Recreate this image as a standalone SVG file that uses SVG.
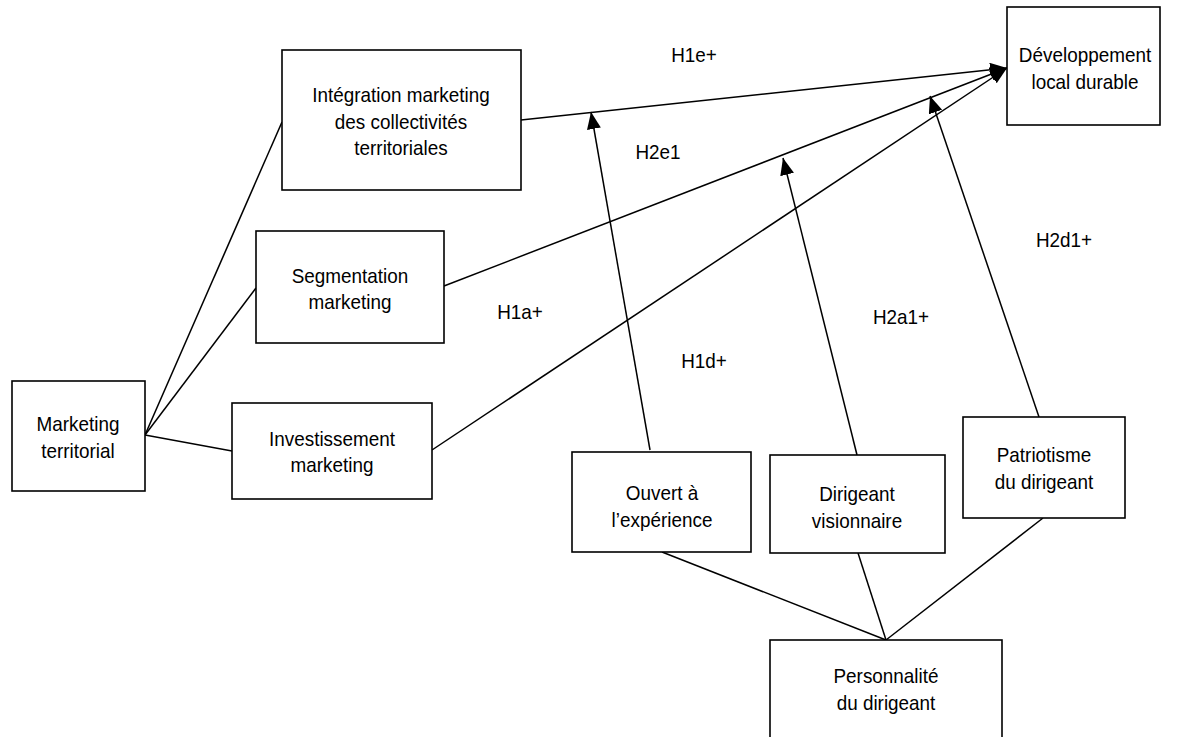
<svg xmlns="http://www.w3.org/2000/svg" width="1179" height="737" viewBox="0 0 1179 737">
<style>
.box{fill:#fff;stroke:#000;stroke-width:1.6}
.t{font-family:"Liberation Sans",Arial,sans-serif;font-size:21px;fill:#000;text-anchor:middle}
.c{stroke:#000;stroke-width:1.5;fill:none}
</style>
<defs>
<marker id="ah" markerUnits="userSpaceOnUse" markerWidth="18" markerHeight="16" refX="17" refY="7" orient="auto">
<path d="M0,0 L17,7 L0,14 z" fill="#000"/>
</marker>
</defs>
<rect width="1179" height="737" fill="#fff"/>
<g id="connectors">
<line class="c" x1="145" y1="435" x2="282" y2="122"/>
<line class="c" x1="145" y1="435" x2="256" y2="288"/>
<line class="c" x1="145" y1="435" x2="232" y2="451"/>
<line class="c" x1="521" y1="120" x2="1007" y2="68" marker-end="url(#ah)"/>
<line class="c" x1="444" y1="286" x2="1007" y2="68" marker-end="url(#ah)"/>
<line class="c" x1="432" y1="450" x2="1007" y2="68" marker-end="url(#ah)"/>
<line class="c" x1="650" y1="450" x2="591" y2="112" marker-end="url(#ah)"/>
<line class="c" x1="857" y1="455" x2="783" y2="158" marker-end="url(#ah)"/>
<line class="c" x1="1039" y1="417" x2="930" y2="96" marker-end="url(#ah)"/>
<line class="c" x1="662" y1="552" x2="886" y2="640"/>
<line class="c" x1="858" y1="553" x2="886" y2="640"/>
<line class="c" x1="1043" y1="518" x2="886" y2="640"/>
</g>
<g id="labels">
<text class="t" transform="translate(694 0) scale(.9 1)" x="0" y="62">H1e+</text>
<text class="t" transform="translate(658 0) scale(.9 1)" x="0" y="159">H2e1</text>
<text class="t" transform="translate(520 0) scale(.9 1)" x="0" y="319">H1a+</text>
<text class="t" transform="translate(704 0) scale(.9 1)" x="0" y="368">H1d+</text>
<text class="t" transform="translate(901 0) scale(.9 1)" x="0" y="324">H2a1+</text>
<text class="t" transform="translate(1064 0) scale(.9 1)" x="0" y="247">H2d1+</text>
</g>
<g id="integration">
<rect class="box" x="282" y="50" width="239" height="140"/>
<text class="t" transform="translate(401 0) scale(.9 1)"><tspan x="0" y="102">Intégration marketing</tspan><tspan x="0" y="129">des collectivités</tspan><tspan x="0" y="155">territoriales</tspan></text>
</g>
<g id="developpement">
<rect class="box" x="1007" y="7" width="153" height="118"/>
<text class="t" transform="translate(1085 0) scale(.9 1)"><tspan x="0" y="62">Développement</tspan><tspan x="0" y="89">local durable</tspan></text>
</g>
<g id="segmentation">
<rect class="box" x="256" y="231" width="188" height="112"/>
<text class="t" transform="translate(350 0) scale(.9 1)"><tspan x="0" y="283">Segmentation</tspan><tspan x="0" y="309">marketing</tspan></text>
</g>
<g id="marketing">
<rect class="box" x="12" y="381" width="133" height="110"/>
<text class="t" transform="translate(78 0) scale(.9 1)"><tspan x="0" y="431">Marketing</tspan><tspan x="0" y="458">territorial</tspan></text>
</g>
<g id="investissement">
<rect class="box" x="232" y="403" width="200" height="96"/>
<text class="t" transform="translate(332 0) scale(.9 1)"><tspan x="0" y="446">Investissement</tspan><tspan x="0" y="472">marketing</tspan></text>
</g>
<g id="ouvert">
<rect class="box" x="572" y="452" width="179" height="100"/>
<text class="t" transform="translate(662 0) scale(.9 1)"><tspan x="0" y="500">Ouvert à</tspan><tspan x="0" y="527">l’expérience</tspan></text>
</g>
<g id="dirigeant">
<rect class="box" x="770" y="455" width="175" height="98"/>
<text class="t" transform="translate(857 0) scale(.9 1)"><tspan x="0" y="501">Dirigeant</tspan><tspan x="0" y="528">visionnaire</tspan></text>
</g>
<g id="patriotisme">
<rect class="box" x="963" y="417" width="162" height="101"/>
<text class="t" transform="translate(1044 0) scale(.9 1)"><tspan x="0" y="462">Patriotisme</tspan><tspan x="0" y="489">du dirigeant</tspan></text>
</g>
<g id="personnalite">
<rect class="box" x="770" y="640" width="232" height="110"/>
<text class="t" transform="translate(886 0) scale(.9 1)"><tspan x="0" y="683">Personnalité</tspan><tspan x="0" y="710">du dirigeant</tspan></text>
</g>
</svg>
